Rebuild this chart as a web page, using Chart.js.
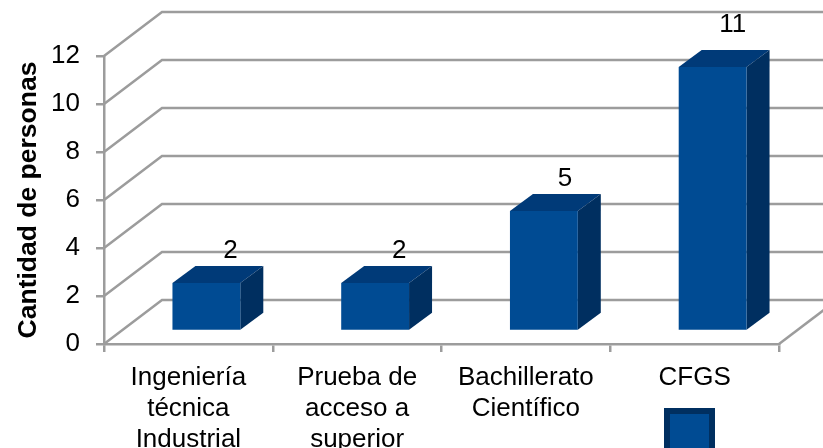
<!DOCTYPE html>
<html>
<head>
<meta charset="utf-8">
<title>Cantidad de personas</title>
<script src="https://cdn.jsdelivr.net/npm/chart.js@4/dist/chart.umd.min.js"></script>
<style>
  html,body{margin:0;padding:0;background:#fff;overflow:hidden}
  #wrap{width:823px;height:448px}
</style>
</head>
<body>
<div id="wrap"><canvas id="chart"></canvas></div>
<script>
/* ── DATA ─────────────────────────────────────────────── */
const categories = [
  ['Ingeniería','técnica','Industrial'],
  ['Prueba de','acceso a','superior'],
  ['Bachillerato','Científico'],
  ['CFGS']
];
const personas = [2, 2, 5, 11];
const yMax = 12;
const yStep = 2;
const yTitle = 'Cantidad de personas';

/* ── 3D LOOK ──────────────────────────────────────────── */
const FONT = '"Liberation Sans", Arial, sans-serif';
const GREY = '#9c9c9c';
const LINE = 2.5;
const FRONT = '#004b93', TOP = '#003a78', SIDE = '#002f60';
const WALL = {x:58, y:-44};      // front edge of floor -> back wall
const BAR_SHIFT = {x:18, y:-13}; // bars stand in the middle of the floor
const BAR_DEPTH = {x:23, y:-17};
const LABEL_DX = [24, 24, 21, 20]; // value labels don't sit at one fixed offset in the original
const LABEL_DY = [-32, -32, -32, -42];

const fake3d = {
  id:'fake3d',
  beforeDatasetsDraw(chart){
    const {ctx, scales:{x, y}} = chart;
    // walls and floor
    ctx.save();
    ctx.strokeStyle = GREY;
    ctx.lineWidth = LINE;
    y.ticks.forEach(t => {
      const py = y.getPixelForValue(t.value);
      ctx.beginPath();
      ctx.moveTo(x.left, py);
      ctx.lineTo(x.left + WALL.x, py + WALL.y);
      ctx.lineTo(x.right + WALL.x, py + WALL.y);
      ctx.stroke();
    });
    ctx.beginPath();
    ctx.moveTo(x.right, y.bottom);
    ctx.lineTo(x.right + WALL.x, y.bottom + WALL.y);
    ctx.stroke();
    ctx.restore();

    // bars: top and side faces, front comes from the library
    ctx.save();
    ctx.translate(BAR_SHIFT.x, BAR_SHIFT.y);
    chart.getDatasetMeta(0).data.forEach(b => {
      const l = b.x - b.width/2, r = b.x + b.width/2;
      ctx.fillStyle = TOP;
      ctx.beginPath();
      ctx.moveTo(l, b.y);
      ctx.lineTo(l + BAR_DEPTH.x, b.y + BAR_DEPTH.y);
      ctx.lineTo(r + BAR_DEPTH.x, b.y + BAR_DEPTH.y);
      ctx.lineTo(r, b.y);
      ctx.closePath();
      ctx.fill();
      ctx.fillStyle = SIDE;
      ctx.beginPath();
      ctx.moveTo(r, b.y);
      ctx.lineTo(r + BAR_DEPTH.x, b.y + BAR_DEPTH.y);
      ctx.lineTo(r + BAR_DEPTH.x, b.base + BAR_DEPTH.y);
      ctx.lineTo(r, b.base);
      ctx.closePath();
      ctx.fill();
    });
  },
  afterDatasetsDraw(chart){
    const {ctx} = chart;
    ctx.restore();
    // value labels over the bars
    ctx.save();
    ctx.fillStyle = '#000';
    ctx.font = '26px ' + FONT;
    ctx.textAlign = 'center';
    ctx.textBaseline = 'middle';
    chart.getDatasetMeta(0).data.forEach((b, i) => {
      ctx.fillText(personas[i], b.x + BAR_SHIFT.x + LABEL_DX[i], b.y + BAR_SHIFT.y + LABEL_DY[i]);
    });
    ctx.restore();
  },
  afterDraw(chart){
    // legend key, its label is cut off in the original
    const {ctx} = chart;
    ctx.save();
    ctx.fillStyle = SIDE;
    ctx.fillRect(664, 408, 51, 40);
    ctx.fillStyle = FRONT;
    ctx.fillRect(670, 414, 39, 34);
    ctx.restore();
  }
};

/* ── CHART ────────────────────────────────────────────── */
new Chart(document.getElementById('chart'), {
  type:'bar',
  plugins:[fake3d],
  data:{
    labels:categories,
    datasets:[{
      data:personas,
      backgroundColor:FRONT,
      borderWidth:0,
      categoryPercentage:1,
      barPercentage:.402,
      clip:false
    }]
  },
  options:{
    responsive:true, maintainAspectRatio:false, animation:false,
    layout:{padding:{top:56, right:44, left:0, bottom:0}},
    plugins:{legend:{display:false}, tooltip:{enabled:false}},
    scales:{
      x:{
        afterFit:s => { s.height = 104; },
        border:{color:GREY, width:LINE},
        grid:{drawOnChartArea:false, color:GREY, lineWidth:LINE, tickLength:8},
        ticks:{color:'#000', font:{family:FONT, size:26, lineHeight:1.2}, padding:10, maxRotation:0, autoSkip:false}
      },
      y:{
        min:0, max:yMax,
        afterFit:s => { s.width = 104; },
        border:{color:GREY, width:LINE},
        grid:{drawOnChartArea:false, color:GREY, lineWidth:LINE, tickLength:8},
        ticks:{stepSize:yStep, color:'#000', font:{family:FONT, size:26}, padding:16},
        title:{display:true, text:yTitle, color:'#000', font:{family:FONT, size:26.5, weight:'bold'}, padding:{top:13, bottom:0}}
      }
    }
  }
});
</script>
</body>
</html>
